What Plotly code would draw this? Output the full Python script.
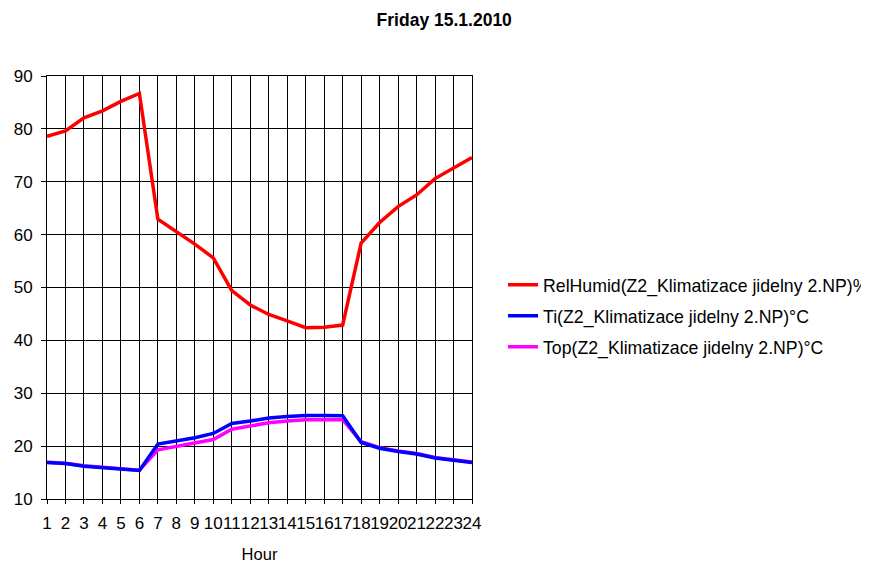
import plotly.graph_objects as go

hours = list(range(1, 25))

rel_humid = [78.6, 79.6, 82.1, 83.4, 85.2, 86.7, 62.9, 60.6, 58.2, 55.6, 49.4, 46.7,
             44.9, 43.7, 42.4, 42.5, 42.9, 58.4, 62.3, 65.3, 67.5, 70.6, 72.6, 74.6]
t_i = [16.9, 16.7, 16.2, 15.95, 15.7, 15.4, 20.4, 20.95, 21.6, 22.4, 24.3, 24.75,
       25.3, 25.6, 25.8, 25.8, 25.75, 20.7, 19.6, 19.0, 18.5, 17.75, 17.4, 16.9]
t_op = [16.95, 16.75, 16.3, 16.05, 15.75, 15.45, 19.3, 19.9, 20.5, 21.25, 23.2, 23.8,
        24.4, 24.75, 25.0, 25.0, 25.0, 20.85, 19.7, 19.1, 18.6, 17.85, 17.5, 17.0]

names = [
    "RelHumid(Z2_Klimatizace jidelny 2.NP)%",
    "Ti(Z2_Klimatizace jidelny 2.NP)°C",
    "Top(Z2_Klimatizace jidelny 2.NP)°C",
]

fig = go.Figure()
fig.add_trace(go.Scatter(x=hours, y=rel_humid, name=names[0], mode="lines",
                         line=dict(color="#ff0000", width=3.5),
                         legendgroup="a", legendrank=1))
fig.add_trace(go.Scatter(x=hours, y=t_op, name=names[2], mode="lines",
                         line=dict(color="#ff00ff", width=3.5),
                         legendgroup="c", legendrank=3))
fig.add_trace(go.Scatter(x=hours, y=t_i, name=names[1], mode="lines",
                         line=dict(color="#0000ff", width=3.5),
                         legendgroup="b", legendrank=2))

font_family = "Liberation Sans, Arial, sans-serif"
axis_font = dict(family=font_family, size=17, color="black")

# the page puts the figure 8px in from the top-left corner
fig.update_layout(
    width=869,
    height=562,
    margin=dict(l=39, r=405, t=68, b=71, autoexpand=False),
    paper_bgcolor="white",
    plot_bgcolor="white",
    font=axis_font,
    title=dict(text="<b>Friday 15.1.2010</b>", x=0.502, xanchor="center",
               y=0.979, yanchor="middle",
               font=dict(family=font_family, size=17.5, color="black")),
    showlegend=True,
    legend=dict(x=1.073, xanchor="left", y=0.432, yanchor="middle",
                traceorder="grouped", tracegroupgap=5,
                bgcolor="rgba(0,0,0,0)",
                font=dict(family=font_family, size=17.7, color="black")),
)

fig.update_xaxes(
    range=[1, 24], tickmode="linear", tick0=1, dtick=1, tickangle=0,
    showgrid=True, gridcolor="black", gridwidth=1,
    showline=True, linecolor="black", linewidth=1, mirror=True,
    ticks="outside", ticklen=4, tickcolor="black",
    ticklabelstandoff=5,
    zeroline=False,
    title=dict(text="Hour", standoff=16, font=dict(family=font_family, size=16.5)),
)
fig.update_yaxes(
    range=[10, 90], tickmode="linear", tick0=10, dtick=10,
    showgrid=True, gridcolor="black", gridwidth=1,
    showline=True, linecolor="black", linewidth=1, mirror=True,
    ticks="outside", ticklen=5, tickcolor="black",
    ticklabelstandoff=5,
    zeroline=False,
)

fig.write_html("out.html")
